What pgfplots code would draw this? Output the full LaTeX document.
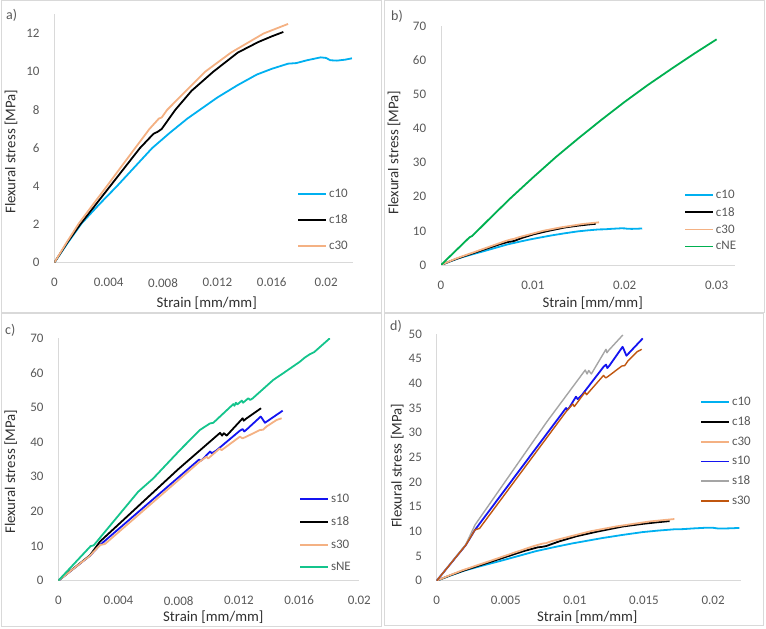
\documentclass[border=0pt]{standalone}
\usepackage{fontspec}
\setmainfont{Carlito}
\usepackage{pgfplots}
\usepackage{pgfplotstable}
\pgfplotsset{compat=1.18}

\definecolor{axisgray}{HTML}{D9D9D9}
\definecolor{tickgray}{HTML}{595959}
\definecolor{titlegray}{HTML}{303030}
\definecolor{cTen}{HTML}{00B0F0}
\definecolor{cEighteen}{HTML}{000000}
\definecolor{cThirty}{HTML}{F4B183}
\definecolor{cNE}{HTML}{00B050}
\definecolor{sTen}{HTML}{1414F0}
\definecolor{sNE}{HTML}{14C48C}
\definecolor{sEighteenD}{HTML}{A5A5A5}
\definecolor{sThirtyD}{HTML}{C0560F}

% ---------- c-series ----------
\pgfplotstableread{
x y
0 0
0.0010 1.05
0.0020 2.05
0.0033 3.05
0.0046 4.0
0.0059 5.0
0.0072 6.0
0.0085 6.8
0.0098 7.55
0.0110 8.15
0.0120 8.65
0.0135 9.3
0.0149 9.85
0.0160 10.15
0.0172 10.42
0.0178 10.45
0.0186 10.6
0.0196 10.75
0.0200 10.72
0.0203 10.6
0.0208 10.58
0.0214 10.63
0.0219 10.7
}\cten

\pgfplotstableread{
x y
0 0
0.0010 1.1
0.0019 2.0
0.0030 3.0
0.0041 4.0
0.0052 5.0
0.0063 6.0
0.0073 6.75
0.0076 6.85
0.0079 7.0
0.0089 8.0
0.0101 9.0
0.0117 10.0
0.0135 11.0
0.0150 11.55
0.0160 11.85
0.01685 12.08
}\ceighteen

\pgfplotstableread{
x y
0 0
0.0009 1.05
0.0018 2.05
0.0028 3.0
0.00386 4.0
0.0049 5.0
0.00595 6.0
0.0070 7.0
0.0077 7.55
0.0079 7.6
0.0083 8.0
0.0097 9.0
0.0111 10.0
0.0130 11.0
0.0154 12.0
0.0163 12.25
0.0172 12.5
}\cthirty

\pgfplotstableread{
x y
0 0
0.0031 8.1
0.0034 8.5
0.0050 12.8
0.0075 19.4
0.0100 25.6
0.0125 31.6
0.0150 37.2
0.0175 42.6
0.0200 47.8
0.0225 52.7
0.0250 57.3
0.0275 61.8
0.0300 66.1
}\cne

% ---------- s-series ----------
\pgfplotstableread{
x y
0 0
0.0021 7.2
0.00277 10.3
0.00936 35.0
0.00945 34.6
0.0096 35.1
0.01008 37.3
0.01020 36.8
0.0105 37.6
0.01206 43.3
0.01225 43.8
0.01235 43.1
0.0125 43.6
0.01345 47.4
0.01352 47.0
0.01373 45.6
0.01491 49.1
}\sten

\pgfplotstableread{
x y
0 0
0.0021 7.3
0.00277 11.3
0.00797 32.2
0.01075 42.7
0.01088 41.9
0.01100 42.6
0.01119 41.9
0.01225 46.9
0.01232 46.2
0.01245 46.7
0.01347 49.8
}\seighteen

\pgfplotstableread{
x y
0 0
0.0021 7.2
0.00277 10.3
0.0031 10.6
0.0094 34.4
0.00985 35.8
0.00996 35.3
0.01073 38.2
0.01085 37.7
0.01207 41.6
0.01224 41.1
0.01245 41.5
0.01339 43.5
0.01361 43.6
0.01383 44.5
0.0145 46.4
0.01484 46.9
}\sthirty

\pgfplotstableread{
x y
0 0
0.00200 9.3
0.00215 10.0
0.00235 10.2
0.00531 25.7
0.0063 29.5
0.00808 37.7
0.0094 43.5
0.01007 45.4
0.01030 45.6
0.01163 51.0
0.01170 50.5
0.01180 51.4
0.01190 50.9
0.01219 52.0
0.01228 51.4
0.01263 52.7
0.01275 52.2
0.01290 52.6
0.01429 58.0
0.01494 59.9
0.01604 63.2
0.01637 64.4
0.01671 65.4
0.01700 66.0
0.01804 70.0
}\sne

\pgfplotsset{
  panel/.style={
    scale only axis,
    axis lines=left,
    axis line style={-, draw=axisgray, line width=0.9pt},
    tick style={draw=none},
    xmin=0, ymin=0,
    no markers,
    scaled x ticks=false,
    scaled y ticks=false,
    /pgf/number format/assume math mode=true,
    ticklabel style={font=\fontsize{13}{15}\selectfont, text=tickgray},
    xticklabel style={anchor=center, inner sep=0pt, yshift=-17.8pt},
    yticklabel style={anchor=east, inner sep=0pt, xshift=-12.5pt},
    legend cell align=left,
    legend style={draw=none, fill=none, inner sep=0pt, anchor=north west,
      font=\fontsize{13}{15}\selectfont, text=tickgray,
      nodes={inner sep=2pt}, column sep=0pt},
    legend image code/.code={\draw[line width=1.8pt, ##1] (0pt,0pt) -- (28pt,0pt);},
    every axis plot/.append style={line width=1.8pt, line join=round},
  },
}
\tikzset{
  xtitle/.style={font=\fontsize{14.8}{17}\selectfont, text=titlegray},
}

\begin{document}
\begin{tikzpicture}
\useasboundingbox (0pt,0pt) rectangle (766pt,629pt);

% panel frames
\begin{scope}[draw=axisgray, line width=1pt]
  \draw (1pt,628pt) rectangle (381pt,316pt);
  \draw (384pt,628pt) rectangle (764pt,316pt);
  \draw (1pt,315pt) rectangle (381pt,2pt);
  \draw (384pt,315pt) rectangle (763pt,3pt);
\end{scope}

% ---------------- a) ----------------
\begin{axis}[panel, at={(54.3pt,366.3pt)}, anchor=south west,
  width=299pt, height=248.3pt, xmax=0.022, ymax=13,
  xtick={0,0.004,0.008,0.012,0.016,0.02},
  xticklabels={0,0.004,0.008,0.012,0.016,0.02},
  ytick={0,2,4,6,8,10,12},
  legend style={at={(0.8117,0.3065)}, row sep=11.8pt}]
  \addplot[color=cTen] table {\cten};
  \addplot[color=cEighteen] table {\ceighteen};
  \addplot[color=cThirty] table {\cthirty};
  \legend{c10,c18,c30}
\end{axis}

% ---------------- b) ----------------
\begin{axis}[panel, at={(441pt,364pt)}, anchor=south west,
  width=294pt, height=239pt, xmax=0.032, ymax=70,
  xtick={0,0.01,0.02,0.03},
  xticklabels={0,0.01,0.02,0.03},
  ytick={0,10,20,30,40,50,60,70},
  legend style={at={(0.8265,0.3226)}, row sep=3.1pt}]
  \addplot[color=cTen] table {\cten};
  \addplot[color=cEighteen] table {\ceighteen};
  \addplot[color=cThirty] table {\cthirty};
  \addplot[color=cNE] table {\cne};
  \legend{c10,c18,c30,cNE}
\end{axis}

% ---------------- c) ----------------
\begin{axis}[panel, at={(58.3pt,48.3pt)}, anchor=south west,
  width=301pt, height=242.4pt, xmax=0.02, ymax=70,
  xtick={0,0.004,0.008,0.012,0.016,0.02},
  xticklabels={0,0.004,0.008,0.012,0.016,0.02},
  ytick={0,10,20,30,40,50,60,70},
  legend style={at={(0.7997,0.3651)}, row sep=8.6pt}]
  \addplot[color=sTen] table {\sten};
  \addplot[color=cEighteen] table {\seighteen};
  \addplot[color=cThirty] table {\sthirty};
  \addplot[color=sNE] table {\sne};
  \legend{s10,s18,s30,sNE}
\end{axis}

% ---------------- d) ----------------
\begin{axis}[panel, at={(436.7pt,48.3pt)}, anchor=south west,
  width=304pt, height=246.7pt, xmax=0.022, ymax=50,
  xtick={0,0.005,0.01,0.015,0.02},
  xticklabels={0,0.005,0.01,0.015,0.02},
  ytick={0,5,10,15,20,25,30,35,40,45,50},
  legend style={at={(0.8661,0.7532)}, row sep=5.7pt}]
  \addplot[color=cTen] table {\cten};
  \addplot[color=cEighteen] table {\ceighteen};
  \addplot[color=cThirty] table {\cthirty};
  \addplot[color=sTen] table {\sten};
  \addplot[color=sEighteenD, line width=1.4pt] table {\seighteen};
  \addplot[color=sThirtyD, line width=1.4pt] table {\sthirty};
  \legend{c10,c18,c30,s10,s18,s30}
\end{axis}

% axis titles
\node[xtitle] at (206.7pt,325.7pt) {Strain [mm/mm]};
\node[xtitle] at (592.7pt,326pt) {Strain [mm/mm]};
\node[xtitle] at (213.3pt,12.3pt) {Strain [mm/mm]};
\node[xtitle] at (587.3pt,12.3pt) {Strain [mm/mm]};
\node[xtitle, rotate=90] at (11pt,477.3pt) {Flexural stress [MPa]};
\node[xtitle, rotate=90] at (394pt,476.5pt) {Flexural stress [MPa]};
\node[xtitle, rotate=90] at (10.8pt,157.3pt) {Flexural stress [MPa]};
\node[xtitle, rotate=90] at (397.3pt,163.2pt) {Flexural stress [MPa]};

% panel letters
\begin{scope}[every node/.style={anchor=west, inner sep=0pt, text=tickgray,
    font=\fontsize{14}{16}\selectfont}]
  \node at (6pt,613.5pt) {a)};
  \node at (391pt,613pt) {b)};
  \node at (5pt,299pt) {c)};
  \node at (390pt,302.3pt) {d)};
\end{scope}
\end{tikzpicture}
\end{document}
